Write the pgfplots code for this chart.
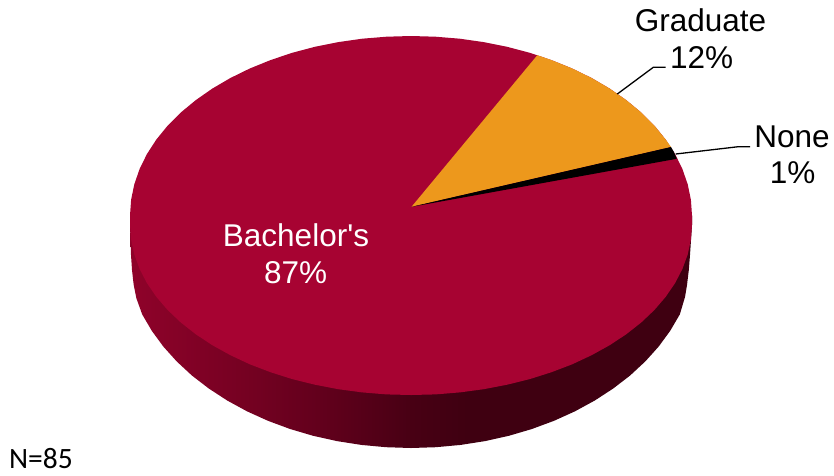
\documentclass[border=0pt]{standalone}
\usepackage{pgfplots}
\pgfplotsset{compat=1.18}
\usepackage{fontspec}
\newfontfamily\arial{Liberation Sans}
\newfontfamily\calib{Carlito}
\newcommand{\lab}{\fontsize{31.5}{38}\selectfont\arial}
\definecolor{piered}{RGB}{167,3,50}
\definecolor{pieorange}{RGB}{237,152,28}
\definecolor{sa}{RGB}{143,2,42}
\definecolor{sb}{RGB}{118,1,34}
\definecolor{sc}{RGB}{98,0,28}
\definecolor{sd}{RGB}{72,0,20}
\definecolor{se}{RGB}{63,0,17}
\pgfdeclarehorizontalshading{sideshade}{100bp}{color(0bp)=(sa); color(25bp)=(sa); color(35bp)=(sb); color(42bp)=(sc); color(50bp)=(sd); color(55bp)=(se); color(100bp)=(se)}
\begin{document}
\begin{tikzpicture}
\begin{axis}[
  scale only axis, width=834pt, height=475pt,
  xmin=0, xmax=834, ymin=0, ymax=475, y dir=reverse,
  hide axis, clip=false,
]
% full frame, to hold the page at the reference's size
\addplot[draw=none] coordinates {(0,0)(834,0)(834,475)(0,475)};
% side wall of the pie
\addplot[draw=none, shading=sideshade] coordinates {
(692,215.5)(130,215.5)(130,225)(130.5,240)(131,255)(132,270)(133.7,285)(136.3,298)(142.2,314.4)(151.8,330.8)(163.3,346.5)(176.7,361.4)(191.9,375.5)(208.8,388.5)(227.2,400.5)(247,411.3)(268,420.8)(290.1,429.0)(313.2,435.8)(337,441.1)(361.3,444.9)(386.1,447.2)(411,448)
(435.9,447.2)(460.7,444.9)(485,441.1)(508.8,435.8)(531.9,429.0)(554,420.8)(575,411.3)(594.8,400.5)(613.2,388.5)(630.1,375.5)(645.3,361.4)(658.7,346.5)(670.2,330.8)(679.8,314.4)(685,297)(687,285)(688.8,270)(690,255)(691,240)(692,225)
} -- cycle;
% top face: Bachelor's 87%
\addplot[draw=none, fill=piered] coordinates {
(692,215.5)(692,225)(690.9,239.8)(687.7,254.5)(682.4,269.0)(675.1,283.1)(665.7,296.8)(654.4,310.0)(641.2,322.5)(626.2,334.3)(609.7,345.2)(591.6,355.2)(572.2,364.3)(551.5,372.2)(529.8,379.1)(507.1,384.7)(483.7,389.2)(459.8,392.4)(435.5,394.4)(411,395.0)
(386.5,394.4)(362.2,392.4)(338.3,389.2)(314.9,384.7)(292.2,379.1)(270.5,372.2)(249.8,364.3)(230.4,355.2)(212.3,345.2)(195.8,334.3)(180.8,322.5)(167.6,310.0)(156.3,296.8)(146.9,283.1)(139.6,269.0)(134.3,254.5)(131.1,239.8)(130,225)(130,215.5)
(131.1,199.8)(134.3,184.3)(139.6,169.0)(146.9,154.1)(156.3,139.6)(167.6,125.7)(180.8,112.5)(195.8,100.1)(212.3,88.6)(230.4,78.0)(249.8,68.5)(270.5,60.1)(292.2,52.8)(314.9,46.8)(338.3,42.1)(362.2,38.7)(386.5,36.7)(411,36.0)
(435.5,36.7)(459.8,38.7)(483.7,42.1)(507.1,46.8)(529.8,52.8)(551.5,60.1)(572.2,68.5)(591.6,78.0)(609.7,88.6)(626.2,100.1)(641.2,112.5)(654.4,125.7)(665.7,139.6)(675.1,154.1)(682.4,169.0)(687.7,184.3)(690.9,199.8)
} -- cycle;
% Graduate 12%
\addplot[draw=none, fill=pieorange] coordinates {
(411.5,206.8)(537.3,55.2)(551.5,60.1)(572.2,68.5)(591.6,78.0)(609.7,88.6)(626.2,100.1)(641.2,112.5)(654.4,125.7)(665.7,139.6)(671,147.0)
} -- cycle;
% None 1%
\addplot[draw=none, fill=black] coordinates {
(411.5,206.8)(671,147.0)(673.9,152.0)(676.7,158.8)
} -- cycle;
% leader lines
\addplot[black, line width=1.3pt] coordinates {(617.3,94)(653.3,67.3)(665.7,67.3)};
\addplot[black, line width=1.3pt] coordinates {(675.7,154)(738.3,146.7)(750,146.7)};
\node[anchor=base, inner sep=0pt, font=\lab] at (axis cs:700.5,31) {Graduate};
\node[anchor=base, inner sep=0pt, font=\lab] at (axis cs:701.7,68) {12\%};
\node[anchor=base, inner sep=0pt, font=\lab] at (axis cs:792,147) {None};
\node[anchor=base, inner sep=0pt, font=\lab] at (axis cs:792.7,183.5) {1\%};
\node[anchor=base, inner sep=0pt, font=\lab, text=white] at (axis cs:296,246.7) {Bachelor's};
\node[anchor=base, inner sep=0pt, font=\lab, text=white] at (axis cs:295.7,283.5) {87\%};
\node[anchor=base, inner sep=0pt, font={\fontsize{29.5}{34}\selectfont\calib}] at (axis cs:41,468.5) {N=85};
\end{axis}
\end{tikzpicture}
\end{document}
